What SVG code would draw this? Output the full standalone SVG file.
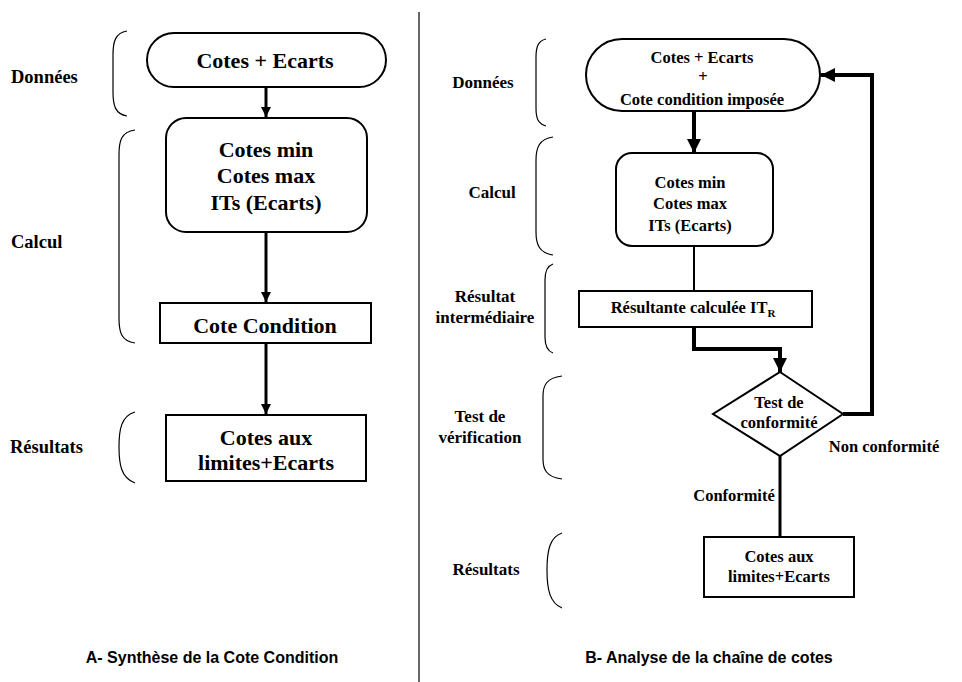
<svg xmlns="http://www.w3.org/2000/svg" width="962" height="682" viewBox="0 0 962 682">
<defs>
<style>
.n{fill:#fff;stroke:#000;stroke-width:2}
.t{font-weight:bold;fill:#000;text-anchor:middle}
.big{font-size:22px}
.sm{font-size:16.5px}
.lab{font-size:18.5px}
.ls{text-anchor:start}
.br{fill:none;stroke:#000;stroke-width:1.2}
.c{fill:none;stroke:#000;stroke-linejoin:miter}
.ttl{font-weight:bold;font-size:16px;fill:#000;text-anchor:middle}
</style>
<marker id="ah" viewBox="0 0 10 10" refX="10" refY="5" markerWidth="3.4" markerHeight="3.4" orient="auto" markerUnits="strokeWidth"><path d="M0,0 L10,5 L0,10 z" fill="#000"/></marker>
<marker id="ah2" viewBox="0 0 10 10" refX="10" refY="5" markerWidth="3.6" markerHeight="3.6" orient="auto" markerUnits="strokeWidth"><path d="M0,0 L10,5 L0,10 z" fill="#000"/></marker>
</defs>
<rect width="962" height="682" fill="#fff"/>
<line x1="419" y1="12" x2="419" y2="682" stroke="#000" stroke-width="1.2"/>

<g id="braces">
<path class="br" d="M127,31 C115,33 113,42 113,55 L113,92 C113,105 115,114 127,116"/>
<path class="br" d="M135,130 C121,132 119,141 119,155 L119,318 C119,332 121,341 135,343"/>
<path class="br" d="M135,412 C121,416 119,430 119,447 C119,464 121,478 135,483"/>
<path class="br" d="M546,39 C538,41 536,47 536,57 L536,108 C536,118 538,124 546,126"/>
<path class="br" d="M553,137 C539,139 536,148 536,160 L536,232 C536,244 539,253 553,255"/>
<path class="br" d="M553,264 C547,266 545,272 545,280 L545,337 C545,345 547,351 553,353"/>
<path class="br" d="M562,376 C546,378 543,386 543,396 L543,459 C543,469 546,477 562,479"/>
<path class="br" d="M562,533 C550,537 547,550 547,570 C547,590 550,603 562,608"/>
</g>

<g font-family="'Liberation Serif', 'DejaVu Serif', serif">
<g id="labels">
<text class="t lab ls" x="11" y="83">Données</text>
<text class="t lab ls" x="11" y="248">Calcul</text>
<text class="t lab ls" x="10" y="453">Résultats</text>
<text class="t" font-size="17" x="483" y="88">Données</text>
<text class="t" font-size="17" x="492" y="198">Calcul</text>
<text class="t" font-size="17" x="485" y="302">Résultat</text>
<text class="t" font-size="17" x="485" y="323">intermédiaire</text>
<text class="t" font-size="17" x="480" y="422">Test de</text>
<text class="t" font-size="17" x="480" y="443">vérification</text>
<text class="t" font-size="17" x="486" y="575">Résultats</text>
</g>

<g id="connectors">
<line class="c" x1="266" y1="87" x2="266" y2="117" stroke-width="3" marker-end="url(#ah)"/>
<line class="c" x1="266" y1="232" x2="266" y2="302" stroke-width="3" marker-end="url(#ah)"/>
<line class="c" x1="266" y1="343" x2="266" y2="414" stroke-width="3" marker-end="url(#ah)"/>
<line class="c" x1="694" y1="111" x2="694" y2="153" stroke-width="4" marker-end="url(#ah2)"/>
<line class="c" x1="694" y1="246" x2="694" y2="291" stroke-width="2"/>
<polyline class="c" points="694,327 694,349 780,349 780,372" stroke-width="4" marker-end="url(#ah2)"/>
<polyline class="c" points="843,414 872,414 872,75 821,75" stroke-width="4" marker-end="url(#ah2)"/>
<line class="c" x1="780" y1="456" x2="780" y2="537" stroke-width="3"/>
<text class="t sm" x="884" y="452">Non conformité</text>
<text class="t sm" x="734" y="501">Conformité</text>
</g>

<g id="a-donnees">
<rect class="n" x="147" y="33" width="239" height="54" rx="27"/>
<text class="t big" x="265" y="68">Cotes + Ecarts</text>
</g>
<g id="a-calcul">
<rect class="n" x="166" y="118" width="201" height="114" rx="20"/>
<text class="t big" x="266" y="157">Cotes min</text>
<text class="t big" x="266" y="183">Cotes max</text>
<text class="t big" x="266" y="210">ITs (Ecarts)</text>
</g>
<g id="a-condition">
<rect class="n" x="160" y="303" width="211" height="40"/>
<text class="t big" x="265" y="333">Cote Condition</text>
</g>
<g id="a-resultats">
<rect class="n" x="166" y="415" width="200" height="66"/>
<text class="t big" x="266" y="445">Cotes aux</text>
<text class="t big" x="266" y="470">limites+Ecarts</text>
</g>

<g id="b-donnees">
<rect class="n" x="586" y="39" width="234" height="72" rx="36"/>
<text class="t sm" x="702" y="63">Cotes + Ecarts</text>
<text class="t sm" x="703" y="82">+</text>
<text class="t sm" x="702" y="105">Cote condition imposée</text>
</g>
<g id="b-calcul">
<rect class="n" x="616" y="153" width="157" height="93" rx="16"/>
<text class="t sm" x="690" y="188">Cotes min</text>
<text class="t sm" x="690" y="209">Cotes max</text>
<text class="t sm" x="690" y="231">ITs (Ecarts)</text>
</g>
<g id="b-resultante">
<rect class="n" x="579" y="291" width="233" height="36"/>
<text class="t sm" x="693" y="313">Résultante calculée IT<tspan font-size="11" dy="4">R</tspan></text>
</g>
<g id="b-test">
<polygon class="n" points="780,372 843,414 780,456 713,414"/>
<text class="t sm" x="779" y="408">Test de</text>
<text class="t sm" x="779" y="428">conformité</text>
</g>
<g id="b-resultats">
<rect class="n" x="704" y="537" width="150" height="60"/>
<text class="t sm" x="779" y="562">Cotes aux</text>
<text class="t sm" x="779" y="582">limites+Ecarts</text>
</g>
</g>

<g font-family="'Liberation Sans', Arial, sans-serif">
<text class="ttl" x="212" y="663">A- Synthèse de la Cote Condition</text>
<text class="ttl" x="709" y="663">B- Analyse de la chaîne de cotes</text>
</g>
</svg>
